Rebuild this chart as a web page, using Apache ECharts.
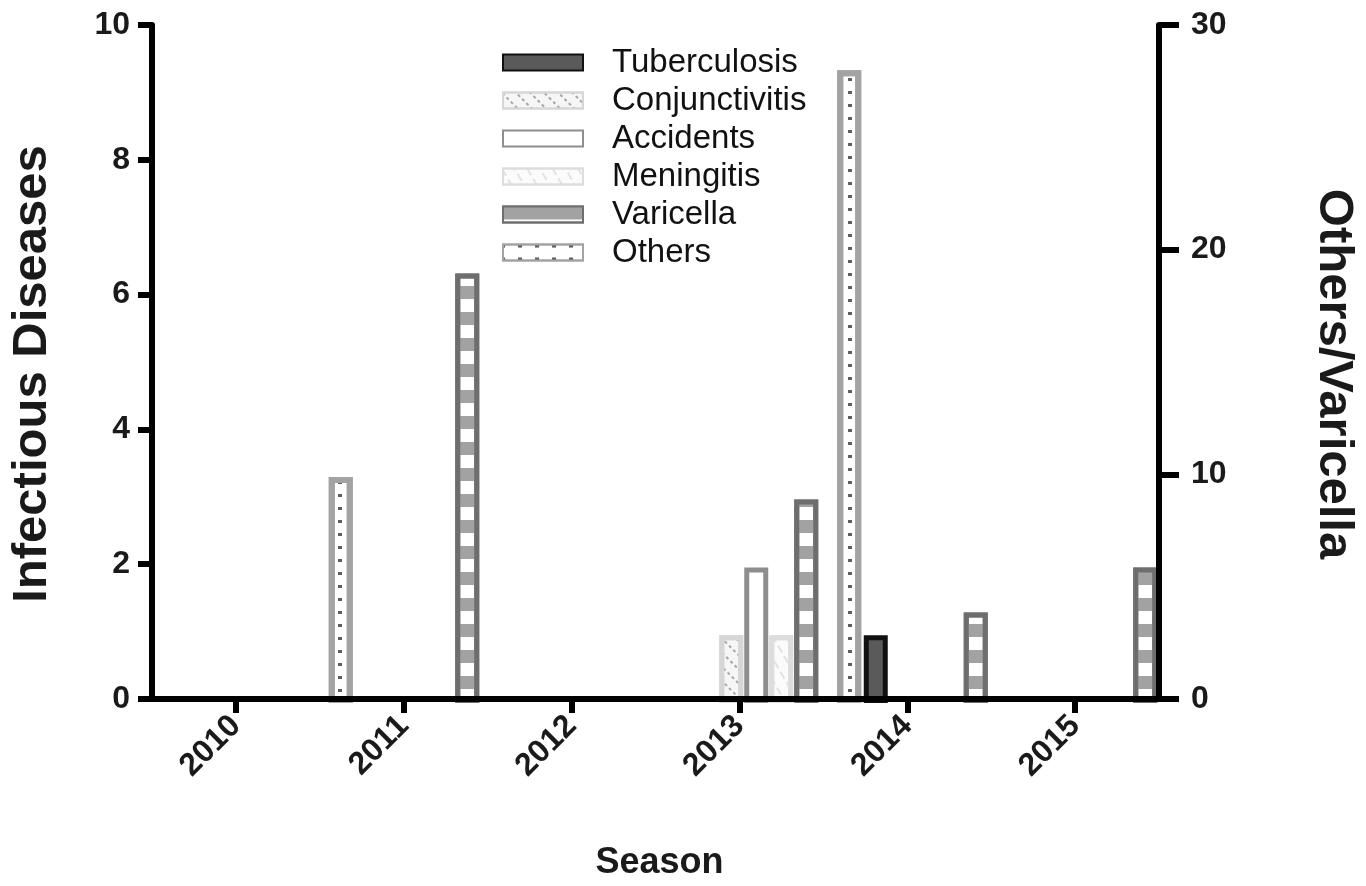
<!DOCTYPE html>
<html>
<head>
<meta charset="utf-8">
<title>Season chart</title>
<script src="https://cdn.jsdelivr.net/npm/echarts@6/dist/echarts.min.js"></script>
<style>
html, body { margin: 0; padding: 0; background: #fff; }
#chart { width: 1366px; height: 886px; }
</style>
</head>
<body>
<div id="chart"></div>
<script>
// data
var seasons = ['2010', '2011', '2012', '2013', '2014', '2015'];
var tuberculosis = [0, 0, 0, 0, 1, 0];
var conjunctivitis = [0, 0, 0, 1, 0, 0];
var accidents = [0, 0, 0, 2, 0, 0];
var meningitis = [0, 0, 0, 1, 0, 0];
var varicella = [0, 19, 0, 9, 4, 6];   // right axis
var others = [10, 0, 0, 28, 0, 0];     // right axis
var leftAxisRange = [0, 10, 2];
var rightAxisRange = [0, 30, 10];

var FONT = '"Liberation Sans", Arial, sans-serif';

// empty seasons draw nothing
function vals(arr) {
    return arr.map(function (v) { return v === 0 ? '-' : v; });
}

var chart = echarts.init(document.getElementById('chart'));

var axisLine = { show: true, lineStyle: { color: '#000', width: 6 } };
var axisTick = { show: true, length: 14, lineStyle: { color: '#000', width: 6 } };
var tickLabel = { color: '#1a1a1a', fontSize: 32, fontWeight: 'bold', fontFamily: FONT };
var titleStyle = { color: '#1a1a1a', fontSize: 49, fontWeight: 'bold', fontFamily: FONT };

// grid 0 carries the visible axes, grid 1 and 2 are shifted copies for the bar groups
var gridTop = 25, gridBottom = 183;
var hiddenX = function (gi) {
    return { gridIndex: gi, type: 'category', data: seasons, show: false };
};
var hiddenY = function (gi, r) {
    return { gridIndex: gi, type: 'value', min: r[0], max: r[1], interval: r[2], show: false };
};

function barSeries(name, data, xi, yi, style, decal) {
    var s = {
        name: name,
        type: 'bar',
        xAxisIndex: xi,
        yAxisIndex: yi,
        barWidth: 24,
        barGap: '4.17%',
        data: vals(data),
        itemStyle: style,
        emphasis: { disabled: true }
    };
    if (decal) s.itemStyle.decal = decal;
    return s;
}

chart.setOption({
    animation: false,
    backgroundColor: '#fff',
    grid: [
        { left: 149, right: 200, top: gridTop, bottom: gridBottom },
        { left: 163, right: 186, top: gridTop, bottom: gridBottom },
        { left: 256, right: 93, top: gridTop, bottom: gridBottom }
    ],
    legend: {
        orient: 'vertical',
        left: 497,
        top: 41,
        itemWidth: 80,
        itemHeight: 16,
        itemGap: 5,
        icon: 'rect',
        selectedMode: false,
        data: ['Tuberculosis', 'Conjunctivitis', 'Accidents', 'Meningitis', 'Varicella', 'Others'],
        formatter: function (name) { return '{s|}' + name; },
        textStyle: {
            color: '#111',
            fontSize: 33,
            fontFamily: FONT,
            rich: { s: { width: 24 } }
        }
    },
    xAxis: [
        {
            gridIndex: 0,
            type: 'category',
            data: seasons,
            z: 10,
            axisLine: axisLine,
            axisTick: { show: true, alignWithLabel: true, length: 14, lineStyle: { color: '#000', width: 6 } },
            axisLabel: Object.assign({ rotate: 45, margin: 22 }, tickLabel),
            name: 'Season',
            nameLocation: 'middle',
            nameGap: 146,
            nameTextStyle: { color: '#1a1a1a', fontSize: 36, fontWeight: 'bold', fontFamily: FONT, padding: [0, 0, 0, 8] }
        },
        hiddenX(1),
        hiddenX(2)
    ],
    yAxis: [
        {
            gridIndex: 0,
            type: 'value',
            position: 'left',
            min: leftAxisRange[0],
            max: leftAxisRange[1],
            interval: leftAxisRange[2],
            z: 10,
            axisLine: axisLine,
            axisTick: axisTick,
            splitLine: { show: false },
            axisLabel: Object.assign({ margin: 22 }, tickLabel),
            name: 'Infectious Diseases',
            nameLocation: 'middle',
            nameGap: 95,
            nameTextStyle: Object.assign({ padding: [0, 24, 0, 0] }, titleStyle)
        },
        {
            gridIndex: 0,
            type: 'value',
            position: 'right',
            min: rightAxisRange[0],
            max: rightAxisRange[1],
            interval: rightAxisRange[2],
            z: 10,
            axisLine: axisLine,
            axisTick: { show: true, length: 20, lineStyle: { color: '#000', width: 6 } },
            splitLine: { show: false },
            axisLabel: Object.assign({ margin: 32 }, tickLabel),
            name: 'Others/Varicella',
            nameLocation: 'middle',
            nameRotate: -90,
            nameGap: 150,
            nameTextStyle: Object.assign({ padding: [0, 0, 0, 24] }, titleStyle)
        },
        hiddenY(1, leftAxisRange),
        hiddenY(1, rightAxisRange),
        hiddenY(2, rightAxisRange)
    ],
    series: [
        barSeries('Tuberculosis', tuberculosis, 1, 2,
            { color: '#5a5a5a', borderColor: '#111', borderWidth: 5 }),
        barSeries('Conjunctivitis', conjunctivitis, 1, 2,
            { color: '#f6f6f6', borderColor: '#d6d6d6', borderWidth: 5 },
            { symbol: 'rect', symbolSize: 1, color: '#a6a6a6', dashArrayX: [[3, 3]], dashArrayY: [2, 8], rotation: Math.PI / 4 }),
        barSeries('Accidents', accidents, 1, 2,
            { color: '#ffffff', borderColor: '#8e8e8e', borderWidth: 5 }),
        barSeries('Meningitis', meningitis, 1, 2,
            { color: '#fbfbfb', borderColor: '#dddddd', borderWidth: 5 },
            { symbol: 'rect', symbolSize: 1, color: '#e2e2e2', dashArrayX: [[8, 4]], dashArrayY: [2, 9], rotation: Math.PI / 3 }),
        barSeries('Varicella', varicella, 1, 3,
            { color: '#ffffff', borderColor: '#6e6e6e', borderWidth: 5 },
            { symbol: 'rect', symbolSize: 1, color: '#a2a2a2', dashArrayX: [[20, 0]], dashArrayY: [13, 13] }),
        barSeries('Others', others, 2, 4,
            { color: '#ffffff', borderColor: '#a3a3a3', borderWidth: 6 },
            { symbol: 'rect', symbolSize: 1, color: '#5e5e5e', dashArrayX: [[2, 13, 2, 0]], dashArrayY: [3, 10] })
    ]
});
</script>
</body>
</html>
